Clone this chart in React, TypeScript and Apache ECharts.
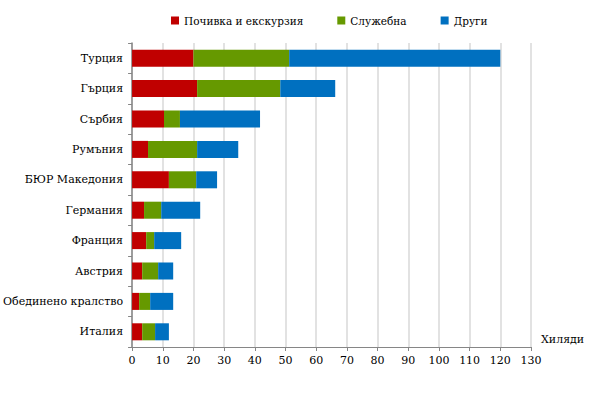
import React, { useEffect, useRef } from "react";
import * as echarts from "echarts";

const categories = [
  "Турция",
  "Гърция",
  "Сърбия",
  "Румъния",
  "БЮР Македония",
  "Германия",
  "Франция",
  "Австрия",
  "Обединено кралство",
  "Италия",
];
const seriesNames = ["Почивка и екскурзия", "Служебна", "Други"];
const leisure = [20, 21.2, 10.4, 5.2, 12, 3.9, 4.6, 3.3, 2.3, 3.3];
const business = [31.2, 27.1, 5.2, 16, 8.9, 5.6, 2.6, 5.2, 3.6, 4.2];
const other = [68.8, 17.9, 26.1, 13.4, 6.8, 12.7, 8.8, 4.9, 7.5, 4.5];
const axisName = "Хиляди";

const colors = ["#C00000", "#669900", "#0070C0"];
const font = "DejaVu Serif";

export default function App() {
  const ref = useRef<HTMLDivElement>(null);
  useEffect(() => {
    if (!ref.current) return;
    const chart = echarts.init(ref.current, undefined, { renderer: "svg" });
    const values = [leisure, business, other];
    chart.setOption({
      animation: false,
      color: colors,
      textStyle: { fontFamily: font },
      legend: {
        left: 166,
        top: 10,
        itemWidth: 8,
        itemHeight: 8,
        itemGap: 34,
        icon: "rect",
        textStyle: { fontFamily: font, fontSize: 10.5, color: "#000" },
        data: seriesNames,
      },
      grid: { left: 132, right: 69, top: 43, bottom: 48, containLabel: false },
      xAxis: {
        type: "value",
        min: 0,
        max: 130,
        interval: 10,
        name: axisName,
        nameLocation: "end",
        nameGap: 10,
        nameTextStyle: {
          fontFamily: font,
          fontSize: 11,
          color: "#000",
          align: "left",
          verticalAlign: "bottom",
          padding: [0, 0, 2, 0],
        },
        axisLine: { show: true, lineStyle: { color: "#868686", width: 1 } },
        axisTick: { show: true, length: 4, lineStyle: { color: "#868686" } },
        axisLabel: { fontFamily: font, fontSize: 11, color: "#000", margin: 8 },
        splitLine: { show: true, lineStyle: { color: "#D9D9D9", width: 1.5 } },
      },
      yAxis: {
        type: "category",
        data: categories,
        inverse: true,
        axisLine: { show: true, lineStyle: { color: "#868686", width: 1.5 } },
        axisTick: { show: true, length: 4, lineStyle: { color: "#868686" } },
        axisLabel: { fontFamily: font, fontSize: 11, color: "#000", margin: 9 },
      },
      series: seriesNames.map((name, i) => ({
        name,
        type: "bar",
        stack: "total",
        barWidth: "56%",
        data: values[i],
        itemStyle: { color: colors[i] },
      })),
    });
    return () => chart.dispose();
  }, []);
  return (
    <div
      ref={ref}
      style={{ position: "absolute", left: 0, top: 0, width: 600, height: 395 }}
    />
  );
}
